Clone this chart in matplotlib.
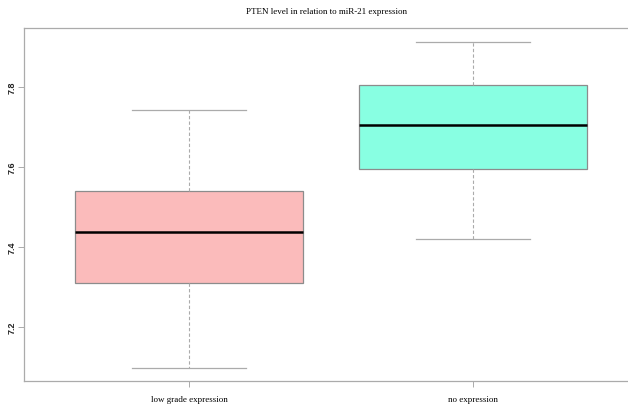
import matplotlib
matplotlib.use("Agg")
import matplotlib.pyplot as plt

# Box statistics per group
groups = ["low grade expression", "no expression"]
whisker_low = [7.098, 7.420]
box_q1 = [7.310, 7.595]
box_median = [7.437, 7.706]
box_q3 = [7.541, 7.806]
whisker_high = [7.742, 7.913]
box_colors = ["#fbbbbb", "#88ffe2"]

y_ticks = [7.2, 7.4, 7.6, 7.8]

fig = plt.figure(figsize=(6.28, 4.06), dpi=100)
ax = fig.add_axes([24 / 628, 24 / 406, 1 - 24 / 628, 353 / 406])

stats = []
for i, name in enumerate(groups):
    stats.append({
        "label": name,
        "whislo": whisker_low[i],
        "q1": box_q1[i],
        "med": box_median[i],
        "q3": box_q3[i],
        "whishi": whisker_high[i],
        "fliers": [],
    })

edge = "#8c8c8c"
light = "#ababab"
bp = ax.bxp(
    stats,
    positions=[1, 2],
    widths=0.8,
    patch_artist=True,
    showfliers=False,
    boxprops=dict(edgecolor=edge, linewidth=0.9),
    whiskerprops=dict(color=light, linestyle=(0, (3, 2)), linewidth=0.8),
    capprops=dict(color=light, linewidth=0.9),
    medianprops=dict(color="black", linewidth=1.8, solid_capstyle="butt"),
    capwidths=0.4,
)
for patch, c in zip(bp["boxes"], box_colors):
    patch.set_facecolor(c)

ax.set_xlim(0.419, 2.546)
ax.set_ylim(7.065, 7.9475)

for side in ["top", "left", "bottom"]:
    ax.spines[side].set_color(light)
    ax.spines[side].set_linewidth(0.9)
ax.spines["right"].set_visible(False)

ax.set_yticks(y_ticks)
ax.set_yticklabels([str(v) for v in y_ticks], rotation=90, va="center",
                   family="Liberation Sans", fontsize=6.5, fontweight="bold",
                   color="#222222")
ax.set_xticks([1, 2])
ax.set_xticklabels(groups, family="Liberation Serif", fontsize=6.5)
ax.tick_params(axis="y", length=4, width=0.7, color=light, pad=1.5)
ax.tick_params(axis="x", length=4, width=0.7, color=light, pad=6)

fig.text(326 / 628, 1 - 12 / 406, "PTEN level in relation to miR-21 expression",
         ha="center", va="center", family="Liberation Serif", fontsize=6.5)

fig.savefig("out.png", dpi=100)
